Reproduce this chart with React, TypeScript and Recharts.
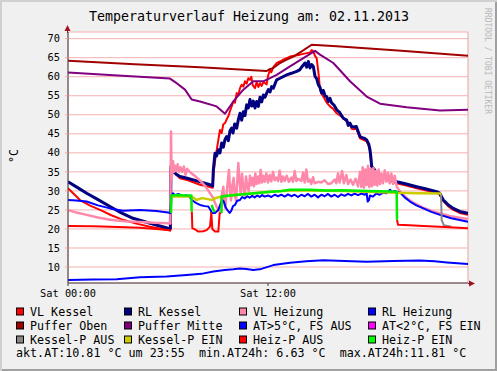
import React from "react";
import { CartesianGrid, Line, LineChart, XAxis, YAxis } from "recharts";

type Pt = [number, number | null];

// hours since Sat 00:00 -> temperature in °C
const vlKessel: Pt[] = [
  [0, 30.7], [0.4, 29.0], [0.72, 27.6], [1.3, 26.2], [1.92, 25.0], [2.6, 23.6], [3.3, 22.4], [4.1, 21.4],
  [4.92, 20.6], [6.0, 19.7], [6.14, 19.6], [6.17, 36.0], [6.3, 35.0], [6.72, 33.3], [7.2, 32.8], [7.92, 31.6],
  [8.52, 31.0], [8.68, 30.8], [8.74, 35.0], [8.86, 39.0], [9.02, 43.4], [9.12, 46.0], [9.22, 45.2], [9.32, 47.5],
  [9.42, 47.8], [9.52, 48.8], [9.62, 49.6], [9.72, 51.0], [9.82, 52.2], [9.92, 53.5], [10.02, 53.2], [10.12, 55.7],
  [10.22, 55.2], [10.32, 57.0], [10.42, 57.9], [10.52, 57.4], [10.62, 58.8], [10.72, 58.2], [10.82, 59.6],
  [10.92, 59.2], [11.0, 60.0], [11.08, 57.8], [11.22, 57.0], [11.32, 58.6], [11.42, 57.3], [11.52, 58.3],
  [11.62, 57.6], [11.72, 58.5], [11.82, 58.3], [11.92, 58.0], [12.0, 60.2], [12.12, 61.8], [12.2, 61.2],
  [12.32, 62.5], [12.52, 63.6], [12.72, 64.0], [12.92, 64.5], [13.32, 65.3], [13.92, 65.8], [14.32, 66.2],
  [14.5, 66.3], [14.62, 67.0], [14.72, 66.6], [14.82, 65.5], [14.92, 64.9], [15.0, 62.0], [15.05, 60.1],
  [15.12, 56.6], [15.22, 55.5], [15.32, 54.8], [15.52, 53.2], [15.72, 52.2], [15.92, 51.5], [16.12, 50.4],
  [16.32, 49.8], [16.52, 49.1], [16.72, 48.3], [16.92, 47.6], [17.02, 46.3], [17.15, 46.2], [17.3, 46.4],
  [17.42, 45.0], [17.52, 43.8], [17.72, 43.4], [17.92, 43.0], [18.05, 41.8], [18.12, 40.3], [18.2, 36.5],
  [18.35, 35.3], [18.52, 34.2], [19.12, 33.0], [19.72, 32.0], [20.3, 31.4], [20.92, 30.7], [21.5, 30.1],
  [22.12, 29.5], [22.3, 29.0], [22.52, 27.3], [22.8, 26.0], [23.12, 25.0], [23.5, 24.2], [24, 23.7],
];

const rlKessel: Pt[] = [
  [0, 32.4], [0.6, 30.8], [1.12, 29.4], [1.8, 27.7], [2.52, 25.9], [3.2, 24.2], [3.9, 22.8], [4.92, 21.5],
  [6.0, 20.2], [6.14, 20.1], [6.18, 36.4], [6.3, 35.2], [6.5, 34.4], [6.72, 33.8], [7.1, 33.4], [7.52, 32.9],
  [8.0, 32.3], [8.52, 31.6], [8.68, 31.3], [8.72, 35.5], [8.82, 39.9], [8.92, 39.2], [9.02, 40.8], [9.12, 40.0],
  [9.22, 42.6], [9.32, 41.5], [9.42, 43.5], [9.52, 44.3], [9.62, 43.2], [9.72, 45.8], [9.82, 46.5], [9.9, 45.2],
  [10.0, 47.6], [10.12, 46.5], [10.22, 48.7], [10.32, 50.4], [10.42, 48.6], [10.52, 50.8], [10.62, 49.8],
  [10.72, 52.6], [10.82, 51.8], [10.92, 54.0], [11.02, 52.3], [11.12, 53.6], [11.22, 51.8], [11.32, 53.5],
  [11.42, 52.2], [11.52, 54.6], [11.62, 53.4], [11.72, 55.2], [11.82, 54.6], [11.92, 55.7], [12.02, 56.6],
  [12.12, 56.0], [12.22, 57.4], [12.32, 57.0], [12.52, 59.2], [12.72, 59.6], [13.12, 60.5], [13.4, 60.9],
  [13.72, 61.4], [13.9, 61.8], [14.05, 62.7], [14.22, 63.6], [14.32, 62.5], [14.42, 64.0], [14.52, 62.3],
  [14.62, 63.2], [14.72, 62.7], [14.82, 60.1], [14.92, 59.5], [15.02, 57.9], [15.12, 57.2], [15.22, 55.7],
  [15.32, 56.4], [15.42, 55.0], [15.52, 54.8], [15.62, 53.5], [15.72, 54.3], [15.82, 53.1], [15.97, 52.5],
  [16.12, 51.3], [16.3, 50.6], [16.52, 49.1], [16.72, 48.6], [16.82, 47.2], [16.92, 47.8], [17.02, 46.9],
  [17.15, 46.8], [17.3, 46.9], [17.42, 45.5], [17.52, 44.3], [17.65, 44.0], [17.8, 43.8], [17.92, 43.4],
  [18.05, 42.2], [18.12, 40.8], [18.18, 38.5], [18.22, 36.4], [18.35, 35.8], [18.52, 34.7], [18.8, 34.0],
  [19.12, 33.3], [19.72, 32.4], [20.3, 31.8], [20.92, 31.1], [21.5, 30.5], [22.12, 29.8], [22.3, 29.4],
  [22.52, 27.6], [22.8, 26.4], [23.12, 25.4], [23.5, 24.6], [24, 24.1],
];

const vlHeizung: Pt[] = [
  [0, 25.0], [0.5, 24.3], [1.12, 23.7], [1.8, 23.0], [2.52, 22.4], [3.4, 22.0], [4.32, 21.8], [5.2, 21.6],
  [6.0, 21.5], [6.14, 21.4], [6.18, 45.6], [6.22, 33.0], [6.3, 37.8], [6.36, 35.0], [6.42, 36.6], [6.5, 35.2],
  [6.58, 37.0], [6.66, 35.0], [6.75, 36.2], [6.85, 35.0], [6.95, 36.4], [7.05, 34.2], [7.15, 35.8], [7.3, 35.0],
  [7.42, 34.6], [7.6, 34.0], [7.8, 33.2], [8.0, 32.4], [8.2, 31.4], [8.4, 30.2], [8.52, 29.4], [8.7, 28.2],
  [8.82, 26.8], [8.95, 25.6], [9.08, 24.8], [9.16, 25.4], [9.24, 29.2], [9.32, 31.1], [9.38, 27.0], [9.44, 25.5],
  [9.52, 29.5], [9.6, 33.0], [9.66, 35.5], [9.72, 30.0], [9.78, 27.5], [9.86, 31.5], [9.94, 33.4], [10.0, 29.0],
  [10.08, 27.5], [10.16, 33.0], [10.22, 37.3], [10.28, 33.0], [10.36, 29.5], [10.44, 34.5], [10.52, 31.0],
  [10.6, 28.8], [10.68, 33.8], [10.76, 31.0], [10.84, 30.0], [10.92, 34.0], [11.0, 31.5], [11.08, 33.4],
  [11.16, 31.2], [11.24, 34.6], [11.32, 31.8], [11.4, 33.8], [11.48, 32.0], [11.56, 35.5], [11.64, 32.2],
  [11.72, 34.0], [11.8, 32.4], [11.9, 34.6], [12.0, 32.2], [12.1, 34.2], [12.2, 32.5], [12.3, 35.0], [12.4, 32.8],
  [12.5, 33.5], [12.6, 32.6], [12.7, 35.3], [12.8, 32.4], [12.9, 33.8], [13.0, 32.6], [13.12, 34.0], [13.25, 32.4],
  [13.4, 33.5], [13.5, 32.4], [13.6, 35.2], [13.7, 32.6], [13.8, 33.2], [14.0, 32.6], [14.1, 34.8], [14.2, 32.2],
  [14.3, 35.6], [14.4, 32.4], [14.5, 33.0], [14.6, 31.8], [14.7, 33.6], [14.8, 32.0], [15.0, 32.4], [15.2, 32.2],
  [15.4, 32.8], [15.6, 31.8], [15.8, 32.0], [16.0, 33.0], [16.1, 32.0], [16.2, 34.6], [16.3, 32.2], [16.45, 35.2],
  [16.55, 32.0], [16.7, 34.2], [16.8, 31.8], [16.95, 33.0], [17.1, 31.6], [17.25, 33.2], [17.4, 31.2],
  [17.52, 35.0], [17.6, 31.0], [17.68, 36.2], [17.76, 30.8], [17.84, 35.6], [17.92, 31.5], [18.0, 36.6],
  [18.08, 31.0], [18.16, 35.8], [18.24, 31.2], [18.32, 36.0], [18.4, 31.6], [18.48, 35.2], [18.56, 31.4],
  [18.64, 35.6], [18.72, 31.8], [18.8, 34.6], [18.9, 32.0], [19.0, 35.4], [19.1, 32.4], [19.2, 34.8],
  [19.3, 32.0], [19.4, 34.6], [19.5, 31.8], [19.6, 34.0], [19.72, 31.2], [19.92, 29.8], [20.3, 28.2],
  [20.72, 26.9], [21.3, 25.6], [21.92, 24.6], [22.4, 24.0], [22.9, 23.4], [23.4, 23.0], [24, 22.6],
];

const rlHeizung: Pt[] = [
  [0, 27.6], [0.5, 27.5], [1.12, 27.2], [1.8, 26.2], [2.52, 25.4], [3.3, 24.8], [4.32, 25.0], [5.3, 24.7],
  [6.0, 24.3], [6.14, 24.2], [6.2, 28.5], [6.3, 29.4], [6.45, 28.8], [6.6, 29.2], [6.72, 29.0], [6.9, 28.6],
  [7.12, 28.9], [7.3, 28.4], [7.42, 27.6], [7.7, 26.8], [7.92, 26.3], [8.2, 26.0], [8.42, 25.9], [8.55, 25.0],
  [8.62, 24.2], [8.82, 24.2], [9.02, 25.0], [9.15, 26.5], [9.25, 27.6], [9.35, 27.2], [9.45, 25.8], [9.55, 25.0],
  [9.7, 24.2], [9.8, 24.8], [9.9, 26.0], [10.02, 26.3], [10.15, 27.4], [10.32, 27.6], [10.45, 28.4], [10.6, 28.0],
  [10.75, 28.6], [10.9, 28.2], [11.05, 28.7], [11.2, 28.3], [11.35, 28.8], [11.5, 28.4], [11.65, 28.9],
  [11.8, 28.5], [12.0, 28.8], [12.2, 28.4], [12.4, 29.0], [12.6, 28.6], [12.8, 29.0], [13.0, 28.5], [13.2, 29.1],
  [13.4, 28.6], [13.6, 29.0], [13.8, 28.4], [14.0, 29.0], [14.2, 28.6], [14.4, 29.2], [14.6, 28.5], [14.8, 29.0],
  [15.0, 28.3], [15.2, 29.0], [15.4, 28.6], [15.6, 29.2], [15.8, 28.5], [16.0, 29.0], [16.2, 28.4], [16.4, 29.1],
  [16.6, 28.7], [16.8, 29.2], [17.0, 28.8], [17.2, 29.3], [17.4, 28.9], [17.6, 29.3], [17.8, 29.0], [17.92, 29.4],
  [17.98, 27.2], [18.06, 27.6], [18.12, 28.8], [18.3, 28.5], [18.5, 29.3], [18.7, 29.0], [18.9, 29.5],
  [19.1, 29.4], [19.32, 30.3], [19.45, 29.6], [19.6, 30.0], [19.72, 29.8], [19.92, 29.6], [20.2, 28.3],
  [20.52, 27.2], [20.9, 26.2], [21.32, 25.4], [21.8, 24.5], [22.32, 23.7], [23.0, 22.8], [24, 21.9],
];

const pufferOben: Pt[] = [
  [0, 64.2], [4, 63.3], [7.92, 62.5], [11.92, 61.5], [12.1, 62.0], [12.32, 62.3], [12.72, 63.6], [13.12, 64.5],
  [13.52, 65.3], [14.0, 66.6], [14.62, 68.4], [16.12, 68.0], [20, 66.8], [24, 65.5],
];

const pufferMitte: Pt[] = [
  [0, 61.1], [3, 60.3], [6.12, 59.5], [6.52, 58.3], [7.02, 56.6], [7.42, 54.0], [7.92, 53.5], [8.92, 52.2],
  [9.42, 50.3], [9.92, 53.5], [10.52, 56.6], [11.12, 58.8], [11.72, 58.8], [12.52, 60.5], [13.32, 62.7],
  [14.12, 64.9], [14.82, 66.8], [15.12, 65.8], [15.92, 63.6], [16.92, 58.8], [17.92, 54.8], [18.72, 52.9],
  [20.32, 52.0], [22.32, 51.1], [24, 51.3],
];

const aussen: Pt[] = [
  [0, 6.6], [1.5, 6.7], [2.92, 6.8], [4.32, 7.3], [5.92, 7.5], [7.12, 7.9], [8.0, 8.2], [8.72, 8.8], [9.4, 9.2],
  [9.92, 9.4], [10.32, 9.6], [10.7, 9.5], [11.12, 9.2], [11.6, 9.5], [12.32, 10.5], [13.32, 11.1], [14.3, 11.5],
  [15.32, 11.8], [16.6, 11.6], [17.92, 11.4], [19.5, 11.6], [21.12, 11.7], [22.0, 11.5], [22.74, 11.2], [24, 10.8],
];

const kesselPEin: Pt[] = [
  [6.18, 28.5], [7.42, 28.5], [7.72, 27.6], [7.9, 27.9], [8.02, 28.1], [8.32, 27.9], [8.52, 27.7], [8.62, 27.6],
  [8.8, 28.0], [8.92, 28.2], [9.22, 28.5], [9.6, 28.7], [10.2, 29.0], [11.0, 29.3], [12.0, 29.7], [13.32, 30.1],
  [14.5, 30.1], [16.5, 30.0], [17.92, 29.8], [19.72, 29.5], [21, 29.4], [22.38, 29.3],
];
const kesselPAus: Pt[] = [[22.38, 29.3], [22.42, 22.3], [22.55, 21.0], [23, 20.6]];

const heizPEin: Pt[] = [
  [6.18, 24.2], [6.2, 28.8], [6.6, 28.9], [7.0, 28.8], [7.4, 28.8], [7.42, 24.6], [7.43, null],
  [8.62, 26.3], [8.72, 25.0], [8.8, 24.4], [8.81, null],
  [9.21, 24.2], [9.22, 28.5], [9.6, 28.7], [10.2, 29.0], [11.0, 29.3], [12.0, 29.7], [12.8, 30.0], [13.32, 30.3],
  [14.5, 30.3], [15.5, 30.1], [16.5, 30.2], [17.92, 30.0], [18.8, 29.9], [19.72, 29.8], [19.74, 22.4],
];
const heizPAus: Pt[] = [
  [0, 20.8], [1.5, 20.7], [3, 20.5], [4.32, 20.3], [5.3, 20.0], [6.0, 19.7], [6.16, 19.6], [6.17, null],
  [7.43, 24.6], [7.46, 20.2], [7.65, 19.8], [7.82, 19.3], [8.12, 19.4], [8.32, 19.7], [8.52, 20.6], [8.6, 24.2],
  [8.66, 20.0], [8.82, 19.3], [9.02, 19.3], [9.1, 24.2], [9.2, 24.2], [9.205, null],
  [19.74, 22.4], [19.8, 21.1], [20.5, 21.0], [21.32, 20.8], [22.6, 20.5], [24, 20.2],
];

const legendLabels = [
  ["VL Kessel", "RL Kessel", "VL Heizung", "RL Heizung"],
  ["Puffer Oben", "Puffer Mitte", "AT>5°C, FS AUS", "AT<2°C, FS EIN"],
  ["Kessel-P AUS", "Kessel-P EIN", "Heiz-P AUS", "Heiz-P EIN"],
];
const legendColors = [
  ["#ff0000", "#000080", "#ff88aa", "#0000ff"],
  ["#a00000", "#800080", "#0000ff", "#ff00ff"],
  ["#888888", "#cccc00", "#ff0000", "#00ff00"],
];
const statusLine = "akt.AT:10.81 °C um 23:55  min.AT24h: 6.63 °C  max.AT24h:11.81 °C";

const hourTicks = Array.from({ length: 23 }, (_, i) => i + 1);
const majorTicks = [6, 12, 18];
const yTicks = [10, 15, 20, 25, 30, 35, 40, 45, 50, 55, 60, 65, 70];

const MONO = "'DejaVu Sans Mono', monospace";
const toPts = (s: Pt[]) => s.map(([t, v]) => ({ t, v }));

const series: { data: Pt[]; color: string; w: number }[] = [
  { data: vlKessel, color: "#ff0000", w: 2 },
  { data: rlKessel, color: "#000080", w: 3 },
  { data: vlHeizung, color: "#ff88aa", w: 2.5 },
  { data: rlHeizung, color: "#0000ff", w: 2 },
  { data: pufferOben, color: "#a00000", w: 2 },
  { data: pufferMitte, color: "#800080", w: 2 },
  { data: aussen, color: "#0000ff", w: 2 },
  { data: kesselPAus, color: "#888888", w: 2 },
  { data: kesselPEin, color: "#cccc00", w: 2.5 },
  { data: heizPAus, color: "#ff0000", w: 2 },
  { data: heizPEin, color: "#00ee00", w: 2.5 },
];

export default function App() {
  const colX = [16, 124, 239, 368];
  return (
    <div
      style={{
        position: "relative",
        width: 497,
        height: 371,
        background: "#f0f0f0",
        boxShadow: "inset 2px 2px 0 #d0d0d0, inset -2px -2px 0 #a0a0a0",
        fontFamily: MONO,
      }}
    >
      <style>{"body{margin:0}"}</style>
      <LineChart width={497} height={371} margin={{ top: 32, right: 29, bottom: 68, left: 18 }}>
        <XAxis xAxisId="minor" type="number" dataKey="t" domain={[0, 24]} ticks={hourTicks} hide />
        <XAxis xAxisId="major" type="number" dataKey="t" domain={[0, 24]} ticks={majorTicks} hide />
        <XAxis
          xAxisId="lab"
          type="number"
          dataKey="t"
          domain={[0, 24]}
          ticks={[0, 12]}
          interval={0}
          allowDataOverflow
          height={20}
          tickSize={3}
          tickMargin={4}
          tickFormatter={(h: number) => (h === 0 ? "Sat 00:00" : "Sat 12:00")}
          tick={{ fontFamily: MONO, fontSize: 10.3, fill: "#000" }}
          axisLine={{ stroke: "#404040" }}
          tickLine={{ stroke: "#404040" }}
        />
        <YAxis
          type="number"
          domain={[5.8, 71.75]}
          ticks={yTicks}
          interval={0}
          allowDataOverflow
          width={50}
          tickSize={3}
          tickMargin={5}
          tick={{ fontFamily: MONO, fontSize: 10.3, fill: "#000" }}
          axisLine={{ stroke: "#404040" }}
          tickLine={{ stroke: "#f2a8a8" }}
        />
        <CartesianGrid xAxisId="minor" horizontal={false} stroke="#dcdcdc" fill="#ffffff" />
        <CartesianGrid xAxisId="major" stroke="#f4b0b0" />
        {series.map((s, i) => (
          <Line
            key={i}
            xAxisId="lab"
            data={toPts(s.data)}
            dataKey="v"
            type="linear"
            stroke={s.color}
            strokeWidth={s.w}
            strokeLinejoin="round"
            dot={false}
            activeDot={false}
            connectNulls={false}
            isAnimationActive={false}
          />
        ))}
      </LineChart>
      <svg
        width={497}
        height={371}
        style={{ position: "absolute", left: 0, top: 0, pointerEvents: "none" }}
        fontFamily={MONO}
      >
        <text x={249} y={21} textAnchor="middle" fontSize={13.3} fill="#000">
          Temperaturverlauf Heizung am: 02.11.2013
        </text>
        <text
          x={487}
          y={61}
          textAnchor="middle"
          dominantBaseline="central"
          fontSize={8}
          fill="#b8b8b8"
          transform="rotate(90 487 61)"
        >
          RRDTOOL / TOBI OETIKER
        </text>
        <text
          x={14}
          y={156}
          textAnchor="middle"
          dominantBaseline="central"
          fontSize={11.7}
          fill="#000"
          transform="rotate(-90 14 156)"
        >
          °C
        </text>
        <line x1={67.5} y1={33} x2={67.5} y2={29} stroke="#404040" />
        <polygon points="67.5,25 64.5,31 70.5,31" fill="#a01020" />
        <line x1={468} y1={283.5} x2={471} y2={283.5} stroke="#404040" />
        <polygon points="475,283.5 469,280.5 469,286.5" fill="#a01020" />
        {legendLabels.map((row, r) =>
          row.map((label, c) => (
            <g key={`${r}-${c}`}>
              <rect
                x={colX[c] + 0.5}
                y={308 + r * 14}
                width={7}
                height={7}
                fill={legendColors[r][c]}
                stroke="#000"
              />
              <text x={colX[c] + 14} y={315.5 + r * 14} fontSize={11.7} fill="#000">
                {label}
              </text>
            </g>
          ))
        )}
        <text x={16} y={357} fontSize={11.7} fill="#000" style={{ whiteSpace: "pre" }}>
          {statusLine}
        </text>
      </svg>
    </div>
  );
}
